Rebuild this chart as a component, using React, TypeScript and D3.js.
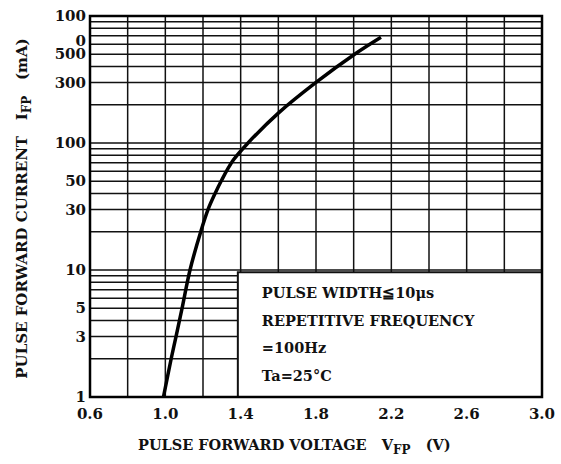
import * as d3 from 'd3'

// curve
const voltage = [0.99, 1.031, 1.057, 1.089, 1.131, 1.188, 1.227, 1.264, 1.296, 1.36, 1.439, 1.6, 1.8, 2.005, 2.145]
const current = [1, 2, 3, 5, 10, 20, 30, 40, 50, 73, 100, 172, 300, 500, 680]

const xTicks = [0.6, 1.0, 1.4, 1.8, 2.2, 2.6, 3.0]
const xGrid = d3.range(0.6, 3.0001, 0.2)
const yLabels = [1, 3, 5, 10, 30, 50, 100, 300, 500, 1000]
const yLabelText = ['1', '3', '5', '10', '30', '50', '100', '300', '500', '100']
const yGrid = [1, 10, 100].flatMap((d) => d3.range(1, 10).map((k) => k * d)).concat([1000])

const noteLines = ['PULSE WIDTH≦10μs', 'REPETITIVE FREQUENCY', '=100Hz', 'Ta=25°C']

const W = 561
const H = 464
const margin = { top: 16, right: 19, bottom: 67, left: 90 }
const font = '"DejaVu Serif", serif'

export default function App() {
  const x = d3.scaleLinear().domain([0.6, 3.0]).range([margin.left, W - margin.right])
  const y = d3.scaleLog().domain([1, 1000]).range([H - margin.bottom, margin.top])

  const pts = voltage.map((v, i) => [v, current[i]] as [number, number])
  const line = d3
    .line<[number, number]>()
    .x((d) => x(d[0]))
    .y((d) => y(d[1]))
    .curve(d3.curveCatmullRom.alpha(0.5))

  // condition box sits in the lower right, covering the grid
  const boxX = x(1.385)
  const boxY = y(9.6)

  return (
    <svg width={W} height={H} style={{ position: 'absolute', left: 0, top: 0, background: '#fff' }}>
      <g stroke="#111" strokeWidth={1.5}>
        {xGrid.map((v) => (
          <line key={'x' + v} x1={x(v)} x2={x(v)} y1={y(1)} y2={y(1000)} />
        ))}
        {yGrid.map((v) => (
          <line key={'y' + v} x1={x(0.6)} x2={x(3.0)} y1={y(v)} y2={y(v)} />
        ))}
      </g>

      <rect x={boxX} y={boxY} width={x(3.0) - boxX} height={y(1) - boxY} fill="#fff" stroke="#111" strokeWidth={2} />
      <g fontFamily={font} fontSize={14.5} fontWeight="bold" fill="#111">
        {noteLines.map((t, i) => (
          <text key={t} x={boxX + 24} y={boxY + 26 + i * 27.5}>
            {t}
          </text>
        ))}
      </g>

      <path d={line(pts) ?? ''} fill="none" stroke="#000" strokeWidth={3.5} />

      <rect
        x={x(0.6)}
        y={y(1000)}
        width={x(3.0) - x(0.6)}
        height={y(1) - y(1000)}
        fill="none"
        stroke="#000"
        strokeWidth={2.5}
      />

      <g fontFamily={font} fontSize={15} fontWeight="bold" fill="#111">
        {yLabels.map((v, i) => (
          <text key={v} x={margin.left - 4} y={y(v)} dy="0.35em" textAnchor="end">
            {yLabelText[i]}
          </text>
        ))}
        <text x={margin.left - 4} y={y(1000) + 25} dy="0.35em" textAnchor="end">
          0
        </text>
        {xTicks.map((v) => (
          <text key={v} x={x(v)} y={y(1) + 22} textAnchor="middle">
            {v.toFixed(1)}
          </text>
        ))}
        <text x={138} y={H - 14} fontSize={14.5}>
          PULSE FORWARD VOLTAGE{'\u00a0\u00a0\u00a0'}V
          <tspan fontSize={12} dy={4}>FP</tspan>
          <tspan dy={-4}>{'\u00a0\u00a0\u00a0'}(V)</tspan>
        </text>
        <text
          transform={`translate(27,${(margin.top + H - margin.bottom) / 2 + 2}) rotate(-90)`}
          textAnchor="middle"
        >
          PULSE FORWARD CURRENT{'\u00a0\u00a0\u00a0'}I
          <tspan fontSize={12} dy={4}>FP</tspan>
          <tspan dy={-4}>{'\u00a0\u00a0\u00a0'}(mA)</tspan>
        </text>
      </g>
    </svg>
  )
}
